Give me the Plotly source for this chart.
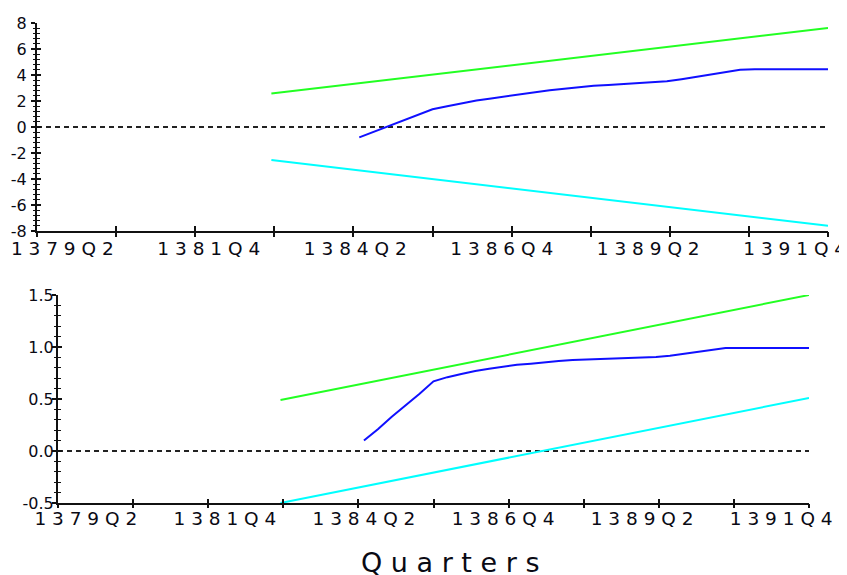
import numpy as np
import plotly.graph_objects as go

# ---------------- data ----------------
quarters = [
    "1378Q4",
    "1379Q1", "1379Q2", "1379Q3", "1379Q4",
    "1380Q1", "1380Q2", "1380Q3", "1380Q4",
    "1381Q1", "1381Q2", "1381Q3", "1381Q4",
    "1382Q1", "1382Q2", "1382Q3", "1382Q4",
    "1383Q1", "1383Q2", "1383Q3", "1383Q4",
    "1384Q1", "1384Q2", "1384Q3", "1384Q4",
    "1385Q1", "1385Q2", "1385Q3", "1385Q4",
    "1386Q1", "1386Q2", "1386Q3", "1386Q4",
    "1387Q1", "1387Q2", "1387Q3", "1387Q4",
    "1388Q1", "1388Q2", "1388Q3", "1388Q4",
    "1389Q1", "1389Q2", "1389Q3", "1389Q4",
    "1390Q1", "1390Q2", "1390Q3", "1390Q4",
    "1391Q1", "1391Q2", "1391Q3", "1391Q4",
    "1392Q1", "1392Q2",
]
tick_labels = ["1379Q2", "1381Q4", "1384Q2", "1386Q4", "1389Q2", "1391Q4"]

# recursive statistic (blue) starts at 1384Q2
stat_quarters = quarters[22:]
cusum = [-0.80, -0.37, 0.07, 0.50, 0.93, 1.36, 1.60, 1.84, 2.04, 2.20, 2.36,
         2.55, 2.70, 2.82, 2.95, 3.07, 3.17, 3.24, 3.30, 3.36, 3.42, 3.52,
         3.68, 3.85, 4.02, 4.20, 4.40, 4.45, 4.45, 4.45, 4.45, 4.45, 4.45]
cusumsq = [0.10, 0.21, 0.33, 0.44, 0.55, 0.67, 0.71, 0.74, 0.77, 0.79, 0.81,
           0.83, 0.84, 0.855, 0.865, 0.875, 0.88, 0.885, 0.89, 0.89, 0.90, 0.905,
           0.915, 0.935, 0.955, 0.975, 0.99, 0.99, 0.99, 0.99, 0.99, 0.99, 0.99]

# 5% significance bands (straight lines: start / end)
band_quarters = ["1382Q4", "1392Q2"]
cusum_upper = [2.57, 7.61]
cusum_lower = [-2.53, -7.60]
cusumsq_upper = [0.49, 1.50]
cusumsq_lower = [-0.50, 0.51]

zero_quarters = ["1378Q4", "1392Q2"]
zero_line = [0, 0]

top_yticks = [8, 6, 4, 2, 0, -2, -4, -6, -8]
top_yticktext = ["8", "6", "4", "2", "0", "-2", "-4", "-6", "-8"]
bot_yticks = [1.5, 1.0, 0.5, 0.0, -0.5]
bot_yticktext = ["1.5", "1.0", "0.5", "0.0", "-0.5"]

# ---------------- styling ----------------
W, H = 847, 575
OFF = 8  # page body margin offset of the figure in the browser
GREEN = "#22ff22"
BLUE = "#1010ff"
CYAN = "#00ffff"
AX = "#111111"
TXT = "#0a0a14"
NB = "\u00a0"
FONT = "DejaVu Sans"


def spaced(s):
    return NB.join(list(s))


def px_x(v):
    return (v - OFF) / W


def px_y(v):
    return 1 - (v - OFF) / H


fig = go.Figure()

def add_panel(xa, ya, blue, up, lo):
    fig.add_trace(go.Scatter(x=zero_quarters, y=zero_line, mode="lines",
                             line=dict(color="#222222", width=2, dash="5px,4px"),
                             xaxis=xa, yaxis=ya, hoverinfo="skip", showlegend=False))
    fig.add_trace(go.Scatter(x=band_quarters, y=up, mode="lines",
                             line=dict(color=GREEN, width=2),
                             xaxis=xa, yaxis=ya, showlegend=False))
    fig.add_trace(go.Scatter(x=band_quarters, y=lo, mode="lines",
                             line=dict(color=CYAN, width=2),
                             xaxis=xa, yaxis=ya, showlegend=False))
    fig.add_trace(go.Scatter(x=stat_quarters, y=blue, mode="lines",
                             line=dict(color=BLUE, width=2),
                             xaxis=xa, yaxis=ya, showlegend=False))

add_panel("x", "y", cusum, cusum_upper, cusum_lower)
add_panel("x2", "y2", cusumsq, cusumsq_upper, cusumsq_lower)

n_last = len(quarters) - 1
tick_marks = list(np.linspace(0, n_last, 11))

top_xdom = [px_x(37), px_x(828)]
bot_xdom = [px_x(58), px_x(809)]
top_ydom = [px_y(231), px_y(23)]
bot_ydom = [px_y(503), px_y(295)]

def cat_xaxis(dom, anchor, standoff, shift, size):
    return dict(domain=dom, anchor=anchor, type="category",
                categoryorder="array", categoryarray=quarters,
                range=[0, n_last], showgrid=False, zeroline=False,
                showline=True, linecolor=AX, linewidth=2,
                tickmode="array", tickvals=tick_labels,
                ticktext=[spaced(t) for t in tick_labels],
                ticks="outside", ticklen=0, tickcolor=AX,
                ticklabelstandoff=standoff, ticklabelshift=shift,
                automargin=False,
                tickfont=dict(family=FONT, size=size, color=TXT),
                fixedrange=True)

def mark_xaxis(over, anchor, side_ticks, ln):
    return dict(overlaying=over, anchor=anchor, type="linear",
                range=[0, n_last], showgrid=False, zeroline=False,
                showline=False, tickmode="array", tickvals=tick_marks,
                ticks=side_ticks, ticklen=ln, tickwidth=1.5, tickcolor=AX,
                showticklabels=False, automargin=False, fixedrange=True)

def num_yaxis(dom, anchor, rng, vals, text, minor_dt, standoff):
    return dict(domain=dom, anchor=anchor, range=rng, showgrid=False,
                zeroline=False, showline=True, linecolor=AX, linewidth=2,
                tickmode="array", tickvals=vals, ticktext=text,
                ticks="outside", ticklen=4, tickwidth=1.5, tickcolor=AX,
                minor=dict(ticks="outside", ticklen=2.5, tickwidth=1.2,
                           tickcolor=AX, tickmode="linear", tick0=rng[0],
                           dtick=minor_dt, showgrid=False),
                ticklabelstandoff=standoff, automargin=False,
                tickfont=dict(family=FONT, size=16, color=TXT),
                fixedrange=True)

def over_yaxis(over, anchor, rng, vals, minor_dt):
    return dict(overlaying=over, anchor=anchor, range=rng, showgrid=False,
                zeroline=False, showline=False, tickmode="array", tickvals=vals,
                ticks="inside", ticklen=4, tickwidth=1.5, tickcolor=AX,
                minor=dict(ticks="inside", ticklen=2.5, tickwidth=1.2,
                           tickcolor=AX, tickmode="linear", tick0=rng[0],
                           dtick=minor_dt, showgrid=False),
                showticklabels=False, automargin=False, fixedrange=True)

fig.update_layout(
    width=W, height=H,
    margin=dict(l=0, r=0, t=0, b=0, autoexpand=False),
    paper_bgcolor="white", plot_bgcolor="white",
    showlegend=False,
    xaxis=cat_xaxis(top_xdom, "y", 0, -4, 18.5),
    xaxis2=cat_xaxis(bot_xdom, "y2", -2, 0, 18.5),
    xaxis3=mark_xaxis("x", "y", "outside", 5),
    xaxis5=mark_xaxis("x", "y", "inside", 5),
    xaxis4=mark_xaxis("x2", "y2", "outside", 4),
    xaxis6=mark_xaxis("x2", "y2", "inside", 4),
    yaxis=num_yaxis(top_ydom, "x", [-8, 8], top_yticks, top_yticktext, 0.4, 1),
    yaxis2=num_yaxis(bot_ydom, "x2", [-0.5, 1.5], bot_yticks, bot_yticktext, 0.1, -5),
    yaxis3=over_yaxis("y", "x", [-8, 8], top_yticks, 0.4),
    yaxis4=over_yaxis("y2", "x2", [-0.5, 1.5], bot_yticks, 0.1),
    annotations=[
        dict(text=spaced("Quarters"), xref="paper", yref="paper",
             x=px_x(450), y=px_y(562), xanchor="center", yanchor="middle",
             showarrow=False, font=dict(family=FONT, size=27, color=TXT)),
    ],
)

# invisible anchor traces so the overlay tick axes are drawn
for xa, ya in [("x3", "y"), ("x5", "y"), ("x4", "y2"), ("x6", "y2")]:
    fig.add_trace(go.Scatter(x=[0], y=[0], mode="markers", marker=dict(opacity=0),
                             xaxis=xa, yaxis=ya, hoverinfo="skip", showlegend=False))
for xa, ya in [("x", "y3"), ("x2", "y4")]:
    fig.add_trace(go.Scatter(x=[quarters[0]], y=[0], mode="markers", marker=dict(opacity=0),
                             xaxis=xa, yaxis=ya, hoverinfo="skip", showlegend=False))

fig.write_html("out.html")
